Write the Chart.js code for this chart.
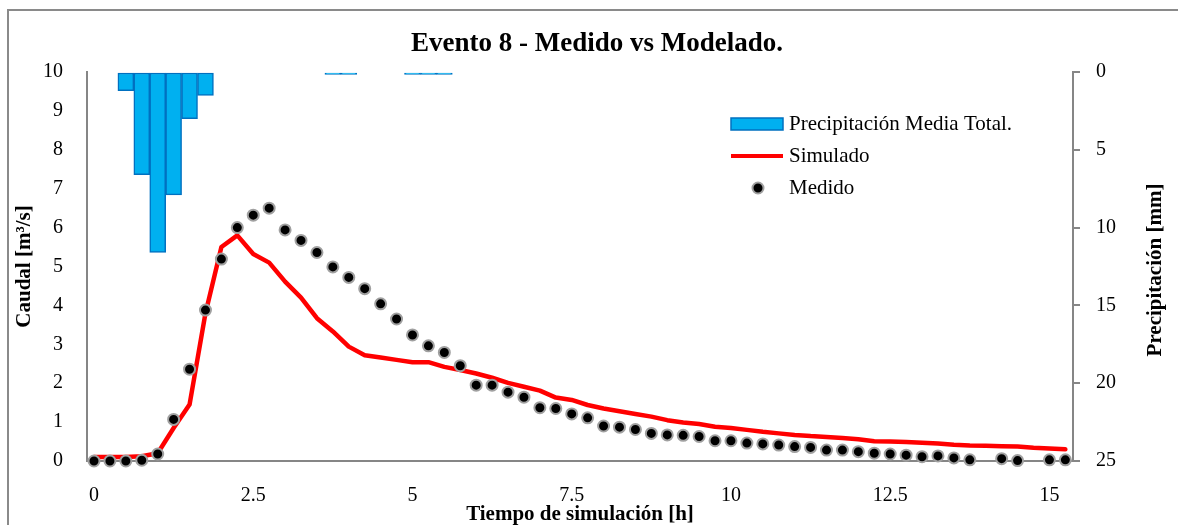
<!DOCTYPE html>
<html>
<head>
<meta charset="utf-8">
<script src="https://cdn.jsdelivr.net/npm/chart.js@4.4.0/dist/chart.umd.min.js"></script>
<style>
  html, body { margin: 0; padding: 0; background: #fff; }
  canvas { display: block; }
</style>
</head>
<body>
<canvas id="chart" width="1178" height="525"></canvas>
<script>
// time steps of 15 min
const TIME_H = [
  0, 0.25, 0.5, 0.75, 1, 1.25, 1.5, 1.75,
  2, 2.25, 2.5, 2.75, 3, 3.25, 3.5, 3.75,
  4, 4.25, 4.5, 4.75, 5, 5.25, 5.5, 5.75,
  6, 6.25, 6.5, 6.75, 7, 7.25, 7.5, 7.75,
  8, 8.25, 8.5, 8.75, 9, 9.25, 9.5, 9.75,
  10, 10.25, 10.5, 10.75, 11, 11.25, 11.5, 11.75,
  12, 12.25, 12.5, 12.75, 13, 13.25, 13.5, 13.75,
  14, 14.25, 14.5, 14.75, 15, 15.25
];

const SIMULADO = [
  0.1, 0.1, 0.1, 0.12, 0.2, 0.85, 1.45, 3.8,
  5.5, 5.8, 5.32, 5.1, 4.61, 4.2, 3.67, 3.33,
  2.94, 2.72, 2.66, 2.6, 2.54, 2.54, 2.42, 2.34,
  2.25, 2.14, 2.01, 1.91, 1.81, 1.63, 1.57, 1.44,
  1.35, 1.28, 1.21, 1.14, 1.05, 0.99, 0.95, 0.88,
  0.85, 0.8, 0.75, 0.71, 0.67, 0.64, 0.62, 0.59,
  0.56, 0.51, 0.5, 0.49, 0.47, 0.45, 0.42, 0.4,
  0.39, 0.38, 0.37, 0.34, 0.32, 0.3
];

const MEDIDO = [
  0, 0, 0, 0.02, 0.18, 1.07, 2.36, 3.88,
  5.19, 6.0, 6.32, 6.5, 5.94, 5.67, 5.36, 4.99,
  4.72, 4.43, 4.04, 3.65, 3.24, 2.96, 2.79, 2.45,
  1.95, 1.95, 1.77, 1.64, 1.37, 1.35, 1.21, 1.11,
  0.9, 0.87, 0.81, 0.71, 0.67, 0.66, 0.63, 0.52,
  0.52, 0.46, 0.44, 0.41, 0.37, 0.35, 0.28, 0.28,
  0.24, 0.2, 0.18, 0.15, 0.11, 0.13, 0.08, 0.03,
  null, 0.06, 0.01, null, 0.03, 0.03
];

const PRECIP_TIME = [0.5, 0.75, 1, 1.25, 1.5, 1.75, 3.75, 4, 5, 5.25, 5.5];
const PRECIP_MM = [1.2, 6.6, 11.6, 7.9, 3.0, 1.5, 0.15, 0.15, 0.15, 0.15, 0.15];

const X_TICKS = [0, 2.5, 5, 7.5, 10, 12.5, 15];

const AXIS_GRAY = '#868686';
const SERIF = "'Liberation Serif', 'Times New Roman', serif";

function toPoints(xs, ys) {
  return xs.map((x, i) => ({ x: x, y: ys[i] }));
}

// title, right axis title, legend and outer frame
const decorPlugin = {
  id: 'decor',
  beforeDraw(chart) {
    const ctx = chart.ctx;
    ctx.save();
    ctx.fillStyle = '#fff';
    ctx.fillRect(0, 0, chart.width, chart.height);
    ctx.strokeStyle = '#8a8a8a';
    ctx.lineWidth = 2;
    ctx.strokeRect(8, 10, chart.width, chart.height);
    ctx.restore();
  },
  afterDraw(chart) {
    const ctx = chart.ctx;
    ctx.save();

    // chart title
    ctx.fillStyle = '#000';
    ctx.font = 'bold 27px ' + SERIF;
    ctx.textAlign = 'center';
    ctx.textBaseline = 'alphabetic';
    ctx.fillText('Evento 8 - Medido vs Modelado.', 597, 51);

    // right axis title
    ctx.save();
    ctx.translate(1156, 270);
    ctx.rotate(-Math.PI / 2);
    ctx.font = 'bold 21px ' + SERIF;
    ctx.textBaseline = 'middle';
    ctx.fillText('Precipitación [mm]', 0, 0);
    ctx.restore();

    // legend
    const ds = chart.data.datasets;
    ctx.font = '21px ' + SERIF;
    ctx.textAlign = 'left';
    ctx.textBaseline = 'middle';

    ctx.fillStyle = ds[2].backgroundColor;
    ctx.fillRect(731, 118, 52, 12);
    ctx.strokeStyle = ds[2].borderColor;
    ctx.lineWidth = 1.5;
    ctx.strokeRect(731, 118, 52, 12);
    ctx.fillStyle = '#000';
    ctx.fillText(ds[2].label, 789, 124);

    ctx.strokeStyle = ds[1].borderColor;
    ctx.lineWidth = 4;
    ctx.beginPath();
    ctx.moveTo(731, 156);
    ctx.lineTo(783, 156);
    ctx.stroke();
    ctx.fillText(ds[1].label, 789, 156);

    ctx.beginPath();
    ctx.arc(758, 188, ds[0].pointRadius, 0, Math.PI * 2);
    ctx.fillStyle = ds[0].pointBackgroundColor;
    ctx.fill();
    ctx.strokeStyle = ds[0].pointBorderColor;
    ctx.lineWidth = ds[0].pointBorderWidth;
    ctx.stroke();
    ctx.fillStyle = '#000';
    ctx.fillText(ds[0].label, 789, 188);

    ctx.restore();
  }
};

new Chart(document.getElementById('chart'), {
  type: 'line',
  data: {
    datasets: [
      {
        label: 'Medido',
        data: toPoints(TIME_H, MEDIDO),
        showLine: false,
        pointRadius: 5.5,
        pointBorderWidth: 2,
        pointBackgroundColor: '#000',
        pointBorderColor: '#a0a0a0',
        yAxisID: 'y',
        clip: false,
        order: 0
      },
      {
        label: 'Simulado',
        data: toPoints(TIME_H, SIMULADO),
        borderColor: '#ff0000',
        borderWidth: 4.5,
        borderJoinStyle: 'round',
        borderCapStyle: 'round',
        pointRadius: 0,
        tension: 0,
        yAxisID: 'y',
        clip: false,
        order: 1
      },
      {
        type: 'bar',
        label: 'Precipitación Media Total.',
        data: toPoints(PRECIP_TIME, PRECIP_MM),
        backgroundColor: '#00b0f0',
        borderColor: '#0070c0',
        borderWidth: 1.5,
        borderSkipped: false,
        barPercentage: 1,
        categoryPercentage: 1,
        yAxisID: 'y2',
        order: 2
      }
    ]
  },
  options: {
    responsive: false,
    animation: false,
    devicePixelRatio: 1,
    layout: { padding: { top: 72, left: 0, right: 0, bottom: 0 } },
    plugins: {
      legend: { display: false },
      tooltip: { enabled: false },
      title: { display: false }
    },
    scales: {
      x: {
        type: 'linear',
        min: -0.11,
        max: 15.37,
        offset: false,
        afterBuildTicks: s => { s.ticks = X_TICKS.map(v => ({ value: v })); },
        afterFit: s => { s.height = 64; },
        grid: { display: false, drawTicks: false },
        border: { display: true, color: AXIS_GRAY, width: 2 },
        ticks: {
          padding: 23,
          maxRotation: 0,
          autoSkip: false,
          color: '#000',
          font: { family: SERIF, size: 20 },
          callback: v => String(v)
        },
        title: {
          display: true,
          text: 'Tiempo de simulación [h]',
          color: '#000',
          font: { family: SERIF, size: 21, weight: 'bold', lineHeight: 1 },
          padding: { top: 0, bottom: 0 }
        }
      },
      y: {
        position: 'left',
        min: 0,
        max: 10,
        afterFit: s => { s.width = 87; },
        grid: { display: false, drawTicks: false },
        border: { display: true, color: AXIS_GRAY, width: 2 },
        ticks: {
          stepSize: 1,
          padding: 24,
          color: '#000',
          font: { family: SERIF, size: 20 }
        },
        title: {
          display: true,
          text: 'Caudal [m³/s]',
          color: '#000',
          font: { family: SERIF, size: 21, weight: 'bold', lineHeight: 1 },
          padding: { top: 14.5, bottom: 0 }
        }
      },
      y2: {
        position: 'right',
        reverse: true,
        min: 0,
        max: 25,
        afterFit: s => { s.width = 105; },
        grid: {
          display: true,
          drawOnChartArea: false,
          drawTicks: true,
          tickLength: 7,
          color: AXIS_GRAY,
          lineWidth: 2
        },
        border: { display: true, color: AXIS_GRAY, width: 2 },
        ticks: {
          stepSize: 5,
          padding: 16,
          color: '#000',
          font: { family: SERIF, size: 20 }
        }
      }
    }
  },
  plugins: [decorPlugin]
});
</script>
</body>
</html>
